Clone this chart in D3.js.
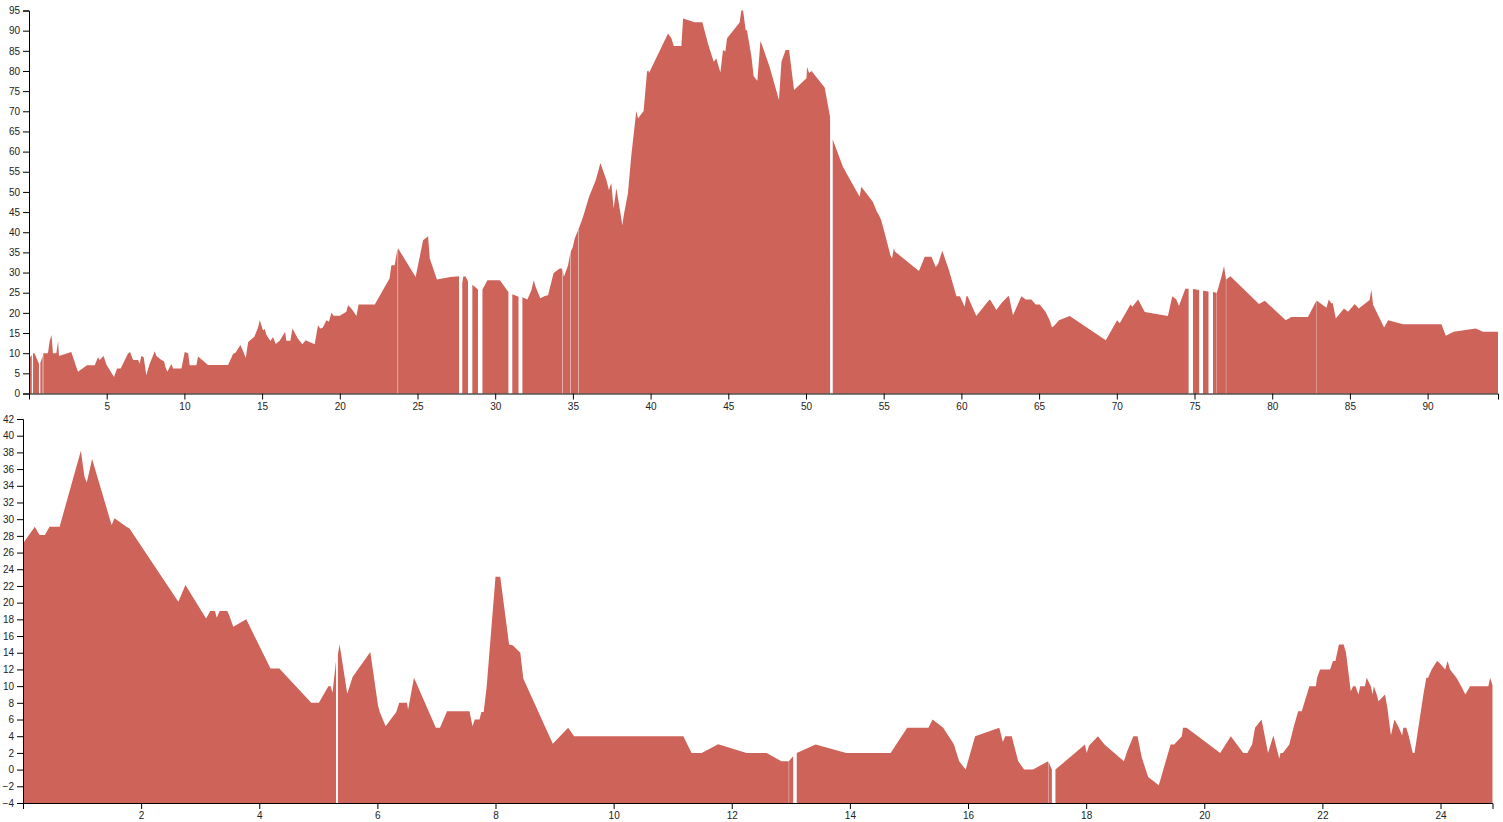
<!DOCTYPE html>
<html>
<head>
<meta charset="utf-8">
<script src="https://cdn.jsdelivr.net/npm/d3@7"></script>
<style>
  html, body { margin: 0; padding: 0; background: #fff; }
  svg { display: block; }
  .tick text { font-family: "Liberation Sans", Arial, sans-serif; font-size: 10px; fill: #222; }
</style>
</head>
<body>
<svg id="chart" width="1503" height="822"></svg>
<script>
// ---------- DATA (null = missing value -> gap in the area) ----------
const topX = [
  0.0, 0.1, 0.18, 0.22, 0.26, 0.35, 0.64, 0.68, 0.73, 0.88, 0.9, 0.92,
  1.22, 1.33, 1.45, 1.54, 1.76, 1.87, 1.93, 2.72, 3.15, 3.73, 4.23, 4.44, 4.55, 4.8, 4.98,
  5.47, 5.67, 5.9, 6.37, 6.5, 6.7, 7.02, 7.12, 7.23, 7.38, 7.55, 7.73, 8.09, 8.2, 8.52,
  8.69, 8.78, 8.9, 9.16, 9.27, 9.48, 9.81, 10.02, 10.24, 10.34, 10.77, 10.88, 11.52,
  12.81, 13.13, 13.3, 13.6, 13.78, 13.95, 14.1, 14.2, 14.5, 14.74, 14.85, 15.06, 15.17,
  15.28, 15.54, 15.7, 15.88, 16.13, 16.48, 16.56, 16.82, 16.95, 17.31, 17.59, 17.8,
  18.38, 18.6, 18.74, 18.9, 19.14, 19.3, 19.46, 19.6, 20.0, 20.42, 20.53, 20.74, 20.89,
  21.07, 21.21, 22.25, 23.2, 23.32, 23.53, 23.72, 23.735, 23.75, 24.88, 25.36, 25.68,
  25.79, 26.25, 27.12, 27.67, 27.78, 27.88, 27.95, 28.1, 28.25, 28.39, 28.53, 28.89,
  29.03, 29.18, 29.5, 30.3, 30.85, 30.97, 31.1, 31.5, 31.62, 31.75, 32.07, 32.33,
  32.48, 32.6, 32.9, 33.19, 33.4, 33.76, 34.15, 34.3, 34.315, 34.33, 34.42, 34.69,
  34.84, 34.855, 34.87, 34.99, 35.12, 35.33, 35.345, 35.36, 35.65, 36.04, 36.47, 36.77,
  37.16, 37.32, 37.47, 37.62, 37.8, 38.18, 38.29, 38.54, 38.75, 39.08, 39.19, 39.55,
  39.77, 39.85, 39.9, 41.12, 41.34, 41.49, 41.98, 42.09, 42.84, 43.33, 43.69, 44.06,
  44.23, 44.49, 44.66, 44.81, 44.92, 45.73, 45.84, 45.95, 46.12, 46.2, 46.49, 46.63,
  46.87, 47.07, 47.66, 48.26, 48.42, 48.69, 48.91, 49.23, 50.03, 50.07, 50.2, 50.35,
  51.2, 51.55, 51.63, 51.72, 52.38, 53.45, 53.56, 54.31, 54.56, 54.69, 54.84, 55.07,
  55.43, 55.54, 55.65, 55.72, 57.27, 57.64, 58.07, 58.35, 58.5, 58.77, 59.2, 59.68,
  59.9, 60.21, 60.32, 60.4, 60.96, 61.78, 61.86, 62.25, 62.57, 63.0, 63.06, 63.32,
  63.86, 64.14, 64.5, 64.78, 65.04, 65.42, 65.68, 65.83, 66.0, 66.28, 66.97, 69.29,
  70.02, 70.19, 70.88, 71.0, 71.37, 71.8, 73.29, 73.57, 73.83, 74.0, 74.41, 74.62,
  74.76, 74.9, 75.3, 75.42, 75.55, 75.9, 76.05, 76.19, 76.42, 76.43, 76.44, 76.73,
  76.9, 77.02, 77.03, 77.04, 77.31, 79.15, 79.52, 80.87, 81.23, 82.3, 82.86, 82.87,
  82.88, 83.49, 83.64, 83.8, 83.9, 84.09, 84.62, 84.88, 85.31, 85.57, 86.27, 86.38,
  86.49, 86.81, 87.2, 87.46, 88.42, 90.89, 91.17, 91.68, 93.1, 93.57, 94.53
];
const topY = [
  10, 9, 9.6, null, 10, 10, 7.4, null, 7.6, 9.3, null, 10,
  10, 13, 14.5, 10, 10, 13, 9.3, 10.3, 5.4, 7, 7, 9, 8.3, 9.3, 7.2,
  4.1, 6.2, 6.2, 9.9, 10.3, 8.3, 8.3, 7.4, 9.3, 9, 4.5, 7, 10.5, 9.3, 8.3,
  8, 6.6, 5.4, 7.3, 6.2, 6.2, 6.2, 10.3, 10, 7, 7, 9.2, 7.1,
  7.1, 9.8, 10.2, 12, 10.5, 8.8, 12.7, 13.1, 14.1, 16.4, 18.2, 15.6, 16,
  14.5, 13, 14, 12.3, 13.1, 15.3, 13.1, 13.1, 16.1, 13.6, 12.2, 13.2,
  12.2, 16.9, 16.1, 16.3, 18.2, 17.8, 20.0, 19.3, 19.3, 20.3, 21.9, 21.1, 20.3,
  19.2, 22.1, 22.1, 28.5, 31.8, 31.8, 36.0, null, 36.0, 28.9, 38.0, 39.0,
  33.5, 28.3, 28.9, 29.1, null, 27.5, 29.0, 29.0, 27.8, null, 27.0, 25.8,
  null, 25.8, 28.1, 28.1, 25.2, null, 24.6, 24.0, null, 23.9, 23.3, 25.6,
  28.1, 26.5, 23.6, 24.2, 24.4, 29.9, 31.0, 31.0, null, 31.0, 28.9, 31.8,
  35.1, null, 35.3, 36.3, 38.5, 40.5, null, 40.7, 43.8, 48.8, 52.9, 57.2,
  52.9, 50.4, 52.2, 45.9, 50.9, 41.8, 44.6, 49.6, 58.7, 70.1, 68.2, 70.1,
  79.8, 80.2, 79.5, 89.3, 88.1, 86.2, 86.2, 93.0, 92.1, 92.1, 86.8, 82.3,
  83.1, 79.6, 85.2, 84.8, 88.1, 92.0, 95.0, 95.0, 90.1, 90.1, 83.5, 78.7,
  77.6, 87.5, 81.0, 72.8, 82.3, 85.2, 85.2, 75.3, 78.2, 81.0, 79.5, 80.0,
  75.9, 68.6, null, 63.0, 56.2, 48.8, 51.3, 47.5, 45.1, 44.3, 43.0, 39.7,
  34.3, 33.5, 36.0, 35.2, 30.4, 33.9, 33.9, 31.4, 32.1, 35.4, 30.6, 24.1,
  24.1, 21.5, 24.1, 24.1, 19.2, 23.2, 23.2, 20.7, 22.4, 24.1, 24.1, 19.4,
  24.1, 23.3, 23.3, 22.1, 22.1, 20.2, 18.2, 16.4, 16.9, 18.2, 19.2, 13.2,
  18.2, 17.4, 22.1, 21.5, 23.3, 20.2, 19.2, 24.1, 23.3, 21.7, 26.0, 26.0,
  null, 25.9, 25.7, null, 25.5, 25.3, null, 25.2, 25.0, null, 25.0, 28.9,
  31.6, 28.5, null, 28.3, 29.1, 22.2, 23.0, 18.2, 19.0, 19.0, 23.1, null,
  23.0, 21.3, 23.3, 22.4, 22.4, 18.6, 21.1, 20.3, 22.2, 21.1, 23.2, 25.8,
  22.0, 19.5, 16.4, 18.2, 17.2, 17.2, 14.3, 15.3, 16.1, 15.3, 15.3
];

const bottomX = [
  0, 0.2, 0.28, 0.37, 0.45, 0.62, 0.98, 1.04, 1.08, 1.17, 1.5, 1.55, 1.75, 1.8,
  2.63, 2.75, 3.1, 3.17, 3.25, 3.28, 3.33, 3.46, 3.5, 3.56, 3.78, 4.19, 4.34, 4.88,
  5.01, 5.17, 5.21, 5.24, 5.3, 5.316, 5.332, 5.36, 5.49, 5.58, 5.88, 6.01, 6.04, 6.14,
  6.32, 6.37, 6.5, 6.52, 6.62, 6.99, 7.06, 7.18, 7.56, 7.61, 7.65, 7.73, 7.76, 7.8,
  7.85, 8.0, 8.08, 8.23, 8.29, 8.42, 8.47, 8.97, 9.23, 9.33, 11.18, 11.32, 11.49,
  11.77, 12.25, 12.59, 12.84, 12.965, 12.968, 12.971, 13.04, 13.07, 13.1, 13.42, 13.94,
  14.69, 14.97, 15.33, 15.4, 15.58, 15.76, 15.85, 15.96, 16.12, 16.53, 16.59, 16.63,
  16.74, 16.85, 16.95, 17.1, 17.355, 17.358, 17.361, 17.42, 17.455, 17.48, 17.98, 18.01,
  18.05, 18.2, 18.31, 18.64, 18.69, 18.8, 18.87, 18.94, 19.05, 19.23, 19.43, 19.49,
  19.62, 19.64, 19.7, 20.27, 20.45, 20.66, 20.73, 20.81, 20.86, 20.97, 21.08, 21.17,
  21.27, 21.29, 21.33, 21.44, 21.51, 21.59, 21.65, 21.78, 21.89, 21.91, 21.96, 22.13,
  22.18, 22.22, 22.28, 22.36, 22.4, 22.48, 22.52, 22.56, 22.61, 22.64, 22.72, 22.75,
  22.82, 22.85, 22.87, 22.92, 22.95, 23.06, 23.1, 23.16, 23.22, 23.29, 23.35, 23.37,
  23.42, 23.46, 23.53, 23.56, 23.71, 23.76, 23.79, 23.85, 23.94, 23.98, 24.08, 24.12,
  24.16, 24.27, 24.35, 24.42, 24.5, 24.81, 24.84, 24.88
];
const bottomY = [
  27.1, 29.1, 28.1, 28.1, 29.1, 29.1, 38.2, 35.1, 34.4, 37.2, 29.3, 30.1, 29.1, 28.9,
  20.1, 22.1, 18.1, 19.0, 19.0, 18.2, 19.0, 19.0, 18.3, 17.1, 18.0, 12.1, 12.1, 8.0,
  8.0, 10.0, 10.0, 9.2, 13.0, null, 13.8, 15.0, 9.1, 11.1, 14.1, 7.7, 6.9, 5.2,
  6.9, 8.0, 8.0, 7.2, 11.0, 5.0, 5.0, 7.0, 7.0, 5.2, 6.0, 6.0, 6.9, 6.9,
  9.9, 23.1, 23.1, 15.0, 14.9, 14.0, 10.9, 3.1, 5.0, 4.0, 4.0, 2.0, 2.0,
  3.05, 2.0, 2.0, 1.0, 1.0, null, 1.05, 1.6, null, 2.0, 3.0, 2.0,
  2.0, 5.0, 5.0, 6.0, 5.0, 3.05, 1.0, 0.0, 4.0, 5.0, 3.3, 4.0,
  4.0, 1.0, 0.0, 0.0, 1.0, null, 0.95, 0.0, null, 0.0, 3.0, 2.0,
  2.9, 4.0, 3.0, 1.0, 2.1, 4.0, 4.0, 1.5, -0.9, -1.86, 3.0, 3.0,
  4.0, 5.0, 5.0, 2.0, 4.0, 2.0, 2.0, 3.0, 5.0, 6.0, 2.0, 4.1,
  1.3, 2.0, 2.0, 3.0, 5.0, 7.0, 7.0, 10.0, 10.0, 11.0, 12.0, 12.0,
  13.0, 13.0, 15.0, 15.0, 14.0, 9.4, 10, 10, 9.0, 10, 10, 11,
  10, 9, 10, 9, 8.2, 9, 7.4, 4.1, 6.0, 5.1, 4.1, 5.0,
  5.0, 4.1, 2.0, 2.0, 9.0, 11.0, 11.0, 12.0, 13.0, 12.8, 12, 13,
  12, 11, 10, 9, 10, 10, 11, 10.1
];

const topXTicks = [5, 10, 15, 20, 25, 30, 35, 40, 45, 50, 55, 60, 65, 70, 75, 80, 85, 90];
const topYTicks = [0, 5, 10, 15, 20, 25, 30, 35, 40, 45, 50, 55, 60, 65, 70, 75, 80, 85, 90, 95];
const bottomXTicks = [2, 4, 6, 8, 10, 12, 14, 16, 18, 20, 22, 24];
const bottomYTicks = [-4, -2, 0, 2, 4, 6, 8, 10, 12, 14, 16, 18, 20, 22, 24, 26, 28, 30, 32, 34, 36, 38, 40, 42];

const fillColor = "#cd6359";

// ---------- DRAW ----------
const svg = d3.select("#chart");

function drawPanel(cfg) {
  const data = cfg.xs.map((x, i) => ({ x: x, y: cfg.ys[i] }));
  const g = svg.append("g").attr("transform", `translate(${cfg.left},${cfg.top})`);
  const x = d3.scaleLinear().domain([cfg.xs[0], cfg.xs[cfg.xs.length - 1]]).range([0, cfg.width]);
  const y = d3.scaleLinear().domain(cfg.yDomain).range([cfg.height, 0]);

  const area = d3.area()
    .defined(d => d.y !== null)
    .x(d => x(d.x))
    .y0(cfg.height)
    .y1(d => y(d.y));

  g.append("path")
    .datum(data)
    .attr("fill", fillColor)
    .attr("d", area);

  g.append("g")
    .attr("transform", `translate(0,${cfg.height})`)
    .call(d3.axisBottom(x).tickValues(cfg.xTicks).tickFormat(d3.format("d")));

  g.append("g")
    .call(d3.axisLeft(y).tickValues(cfg.yTicks).tickFormat(d3.format("d")));
}

drawPanel({
  xs: topX, ys: topY, xTicks: topXTicks, yTicks: topYTicks,
  yDomain: [0, 95], left: 29, top: 10.5, width: 1469, height: 383
});

drawPanel({
  xs: bottomX, ys: bottomY, xTicks: bottomXTicks, yDomain: [-4, 42], yTicks: bottomYTicks,
  left: 23, top: 419, width: 1469.5, height: 384
});
</script>
</body>
</html>
